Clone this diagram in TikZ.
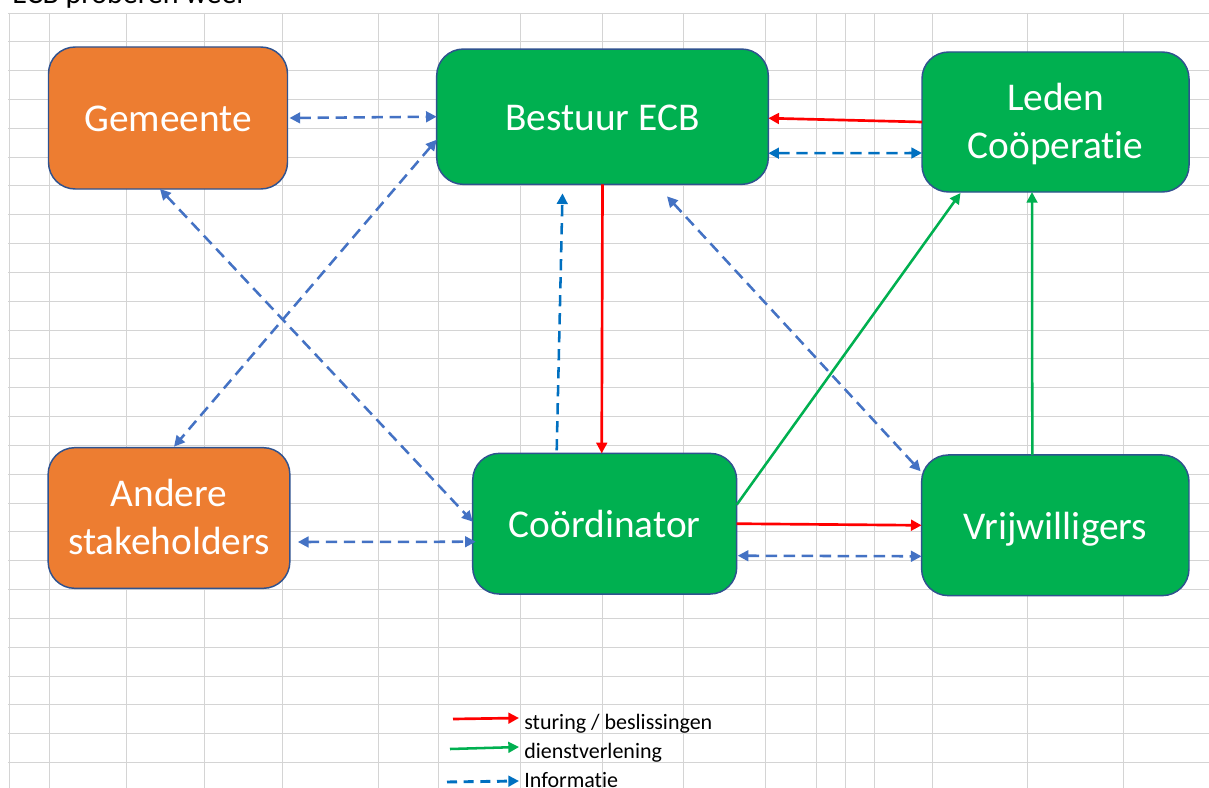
\documentclass[tikz,border=0pt]{standalone}
\usepackage{fontspec}
\setmainfont{Carlito}[Ligatures=NoCommon]
\usetikzlibrary{arrows.meta,calc}
\definecolor{orangeC}{HTML}{ED7D31}
\definecolor{greenC}{HTML}{00B050}
\definecolor{edgeC}{HTML}{2F528F}
\definecolor{blueA}{HTML}{4472C4}
\definecolor{blueB}{HTML}{0070C0}
\definecolor{redC}{HTML}{FF0000}
\definecolor{gridC}{HTML}{D4D4D4}
\begin{document}
\begin{tikzpicture}[x=0.75pt,y=-0.75pt,
  gridline/.style={gridC, line width=0.75pt},
  box/.style={draw=edgeC, line width=1.1pt, rounded corners=20pt, inner sep=0pt, outer sep=0pt,
    text=white, align=center, font=\fontsize{29.5}{36}\selectfont},
  oneline/.style={text height=24pt, text depth=3pt},
  orangebox/.style={box, fill=orangeC},
  greenbox/.style={box, fill=greenC},
  tipend/.style={-{Triangle[length=8pt,width=8pt]}},
  tipboth/.style={{Triangle[length=8pt,width=8pt]}-{Triangle[length=8pt,width=8pt]}},
  info/.style={blueA, line width=1.9pt, dash pattern=on 8.5pt off 5pt, tipboth},
  infoB/.style={blueB, line width=1.9pt, dash pattern=on 8.5pt off 5pt},
  sturing/.style={redC, line width=2pt, tipend},
  dienst/.style={greenC, line width=1.9pt, tipend},
  legendtext/.style={anchor=base west, inner sep=0pt, font=\fontsize{16.5}{20}\selectfont}
]
\path[use as bounding box] (0,0) rectangle (1209,788);
\clip (0,0) rectangle (1209,788);
\fill[white] (0,0) rectangle (1209,788);
% spreadsheet grid
\foreach \k in {0,...,27} \draw[gridline] (8,{floor(13+28.83*\k)+0.5}) -- (1209,{floor(13+28.83*\k)+0.5});
\foreach \x in {9.5,49.5,126.5,204.5,282.5,378.5,438.5,520.5,602.5,683.5,765.5,816.5,845.5,874.5,932.5,1027.5,1123.5}
  \draw[gridline] (\x,13) -- (\x,788);
% title (cut off)
\node[anchor=base west, inner sep=0pt, font=\fontsize{22.5}{27}\selectfont] (title) at (12,4) {ECB proberen weer};
% boxes
\node[orangebox, oneline, minimum width=179.25pt, minimum height=106.5pt] (gem) at (168,118) {Gemeente};
\node[greenbox, oneline, minimum width=248.7pt, minimum height=101.5pt] (bes) at (602.5,116.7) {Bestuur ECB};
\node[greenbox, minimum width=200.25pt, minimum height=105pt] (led) at (1055.5,122) {\rule{0pt}{27pt}Leden\\Coöperatie\rule[-7.5pt]{0pt}{7.5pt}};
\node[orangebox, minimum width=181.3pt, minimum height=105.5pt] (and) at (169,518) {\rule{0pt}{27pt}Andere\\stakeholders\rule[-9pt]{0pt}{9pt}};
\node[greenbox, oneline, minimum width=198pt, minimum height=105.5pt] (coo) at (604.7,523.7) {Coördinator};
\node[greenbox, oneline, minimum width=200.5pt, minimum height=105.5pt] (vri) at (1055.3,525.3) {Vrijwilligers};
% connectors
\draw[info] ($(gem.east)+(2,0)$) -- (bes.west);
\draw[info] ($(bes.west)+(0,23)$) -- ($(and.north)+(5,-1)$);
\draw[info] ($(gem.south)+(-8,0)$) -- ($(coo.west)+(0,-2)$);
\draw[info] ($(and.east)+(8,24)$) -- ($(coo.west)+(3,18)$);
\draw[infoB, tipend] ($(coo.north)+(-48,-3)$) -- ($(bes.south)+(-40,9)$);
\draw[sturing] (bes.south) -- ($(coo.north)+(-3,0)$);
\draw[dienst] ($(coo.east)+(0,-19)$) -- ($(led.south)+(-95,1)$);
\draw[dienst] ($(vri.north)+(-23,0)$) -- ($(led.south)+(-23.5,0)$);
\draw[sturing] (led.west) -- ($(bes.east)+(0,1.5)$);
\draw[infoB, tipboth] ($(bes.east)+(0,36.5)$) -- ($(led.west)+(0,31)$);
\draw[info] ($(bes.south)+(64.5,12)$) -- ($(vri.west)+(-1,-54)$);
\draw[sturing] (coo.east) -- (vri.west);
\draw[info] ($(coo.east)+(1,32)$) -- ($(vri.west)+(0,31)$);
% legend
\coordinate (lr1) at (453,719); \coordinate (lr2) at (519,718);
\coordinate (lg1) at (450,749); \coordinate (lg2) at (519,747);
\coordinate (lb1) at (447,782); \coordinate (lb2) at (519,781);
\node[legendtext] (lt1) at (524,729.3) {sturing / beslissingen};
\node[legendtext] (lt2) at (524,758.3) {dienstverlening};
\node[legendtext] (lt3) at (524,787.3) {Informatie};
\draw[sturing] (lr1) -- (lr2);
\draw[dienst] (lg1) -- (lg2);
\draw[infoB, tipend, line width=2.2pt, dash pattern=on 7.5pt off 5pt] (lb1) -- (lb2);
\end{tikzpicture}
\end{document}
